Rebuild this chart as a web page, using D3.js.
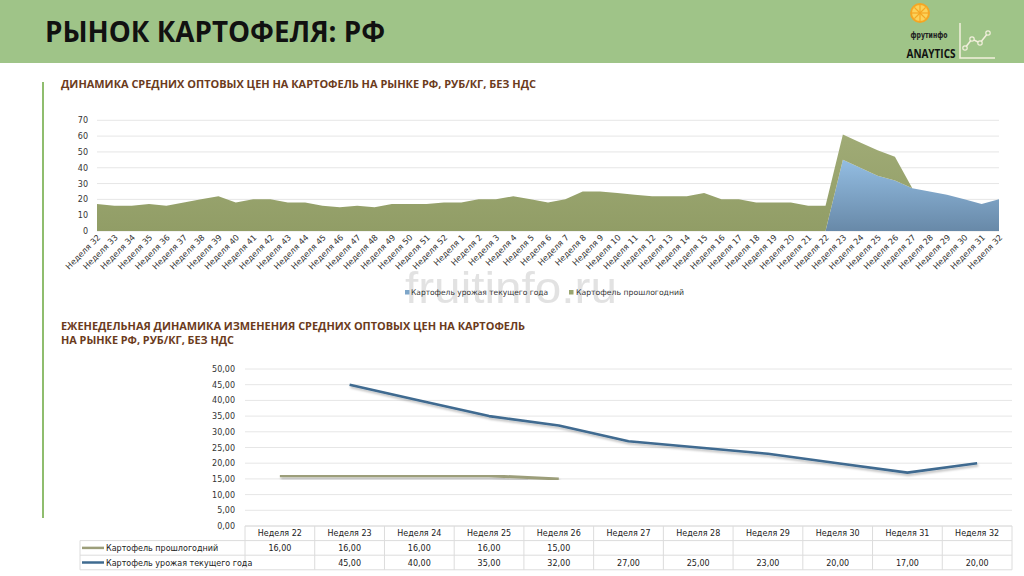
<!DOCTYPE html>
<html>
<head>
<meta charset="utf-8">
<script src="https://cdn.jsdelivr.net/npm/d3@7"></script>
<style>
  body { margin: 0; background: #fff; }
  svg { display: block; font-family: "DejaVu Sans", sans-serif; }
</style>
</head>
<body>
<svg width="1024" height="576"></svg>
<script>
// top chart: weeks from last year's 32 to this year's 32
const topWeeks = [32, 33, 34, 35, 36, 37, 38, 39, 40, 41, 42, 43, 44, 45, 46, 47, 48, 49, 50, 51, 52,
  1, 2, 3, 4, 5, 6, 7, 8, 9, 10, 11, 12, 13, 14, 15, 16, 17, 18, 19, 20, 21, 22, 23, 24, 25, 26, 27, 28, 29, 30, 31, 32];
const topOld = [17, 16, 16, 17, 16, 18, 20, 22, 18, 20, 20, 18, 18, 16, 15, 16, 15, 17, 17, 17, 18,
  18, 20, 20, 22, 20, 18, 20, 25, 25, 24, 23, 22, 22, 22, 24, 20, 20, 18, 18, 18, 16, 16, 16, 16, 16, 15, 0, 0, 0, 0, 0, 0];
const topNew = [0, 0, 0, 0, 0, 0, 0, 0, 0, 0, 0, 0, 0, 0, 0, 0, 0, 0, 0, 0, 0,
  0, 0, 0, 0, 0, 0, 0, 0, 0, 0, 0, 0, 0, 0, 0, 0, 0, 0, 0, 0, 0, 0, 45, 40, 35, 32, 27, 25, 23, 20, 17, 20];
const topTicks = [0, 10, 20, 30, 40, 50, 60, 70];

// bottom chart: weekly prices
const weeks = ["Неделя 22", "Неделя 23", "Неделя 24", "Неделя 25", "Неделя 26", "Неделя 27",
  "Неделя 28", "Неделя 29", "Неделя 30", "Неделя 31", "Неделя 32"];
const oldWeekly = [16, 16, 16, 16, 15, null, null, null, null, null, null];
const newWeekly = [null, 45, 40, 35, 32, 27, 25, 23, 20, 17, 20];
const bottomTicks = [0, 5, 10, 15, 20, 25, 30, 35, 40, 45, 50];

const nameNew = "Картофель урожая текущего года";
const nameOld = "Картофель прошлогодний";

const ru = d3.formatLocale({decimal: ",", thousands: " ", grouping: [3], currency: ["", " ₽"]});
const fmt = ru.format(".2f");

const svg = d3.select("svg");
const defs = svg.append("defs");

const gOld = defs.append("linearGradient").attr("id", "gOld").attr("x1", 0).attr("y1", 0).attr("x2", 0).attr("y2", 1);
gOld.append("stop").attr("offset", "0%").attr("stop-color", "#a0ab76");
gOld.append("stop").attr("offset", "100%").attr("stop-color", "#919d66");
const gNew = defs.append("linearGradient").attr("id", "gNew").attr("x1", 0).attr("y1", 0).attr("x2", 0).attr("y2", 1);
gNew.append("stop").attr("offset", "0%").attr("stop-color", "#93bde2");
gNew.append("stop").attr("offset", "100%").attr("stop-color", "#6889a8");

const shadow = defs.append("filter").attr("id", "shadow").attr("x", "-5%").attr("y", "-20%").attr("width", "110%").attr("height", "150%");
shadow.append("feDropShadow").attr("dx", 1).attr("dy", 2).attr("stdDeviation", 1.2)
  .attr("flood-color", "#000").attr("flood-opacity", 0.25);

// header
svg.append("rect").attr("x", 0).attr("y", 0).attr("width", 1024).attr("height", 63).attr("fill", "#9fc488");
svg.append("text").attr("x", 45).attr("y", 42)
  .style("font-family", "Open Sans").style("font-weight", 700).style("font-size", "29px")
  .attr("fill", "#111").attr("textLength", 340).attr("lengthAdjust", "spacingAndGlyphs")
  .text("РЫНОК КАРТОФЕЛЯ: РФ");

// logo
const logo = svg.append("g");
logo.append("circle").attr("cx", 920).attr("cy", 13).attr("r", 10).attr("fill", "#f5a623");
logo.append("circle").attr("cx", 920).attr("cy", 13).attr("r", 8).attr("fill", "#fcd25a");
d3.range(8).forEach(i => {
  const a = i * Math.PI / 4;
  logo.append("line").attr("x1", 920).attr("y1", 13)
    .attr("x2", 920 + 8 * Math.cos(a)).attr("y2", 13 + 8 * Math.sin(a))
    .attr("stroke", "#f5a623").attr("stroke-width", 1.2);
});
logo.append("text").attr("x", 929).attr("y", 38).attr("text-anchor", "middle")
  .style("font-size", "8.5px").style("font-weight", 700).attr("fill", "#222")
  .attr("textLength", 37).attr("lengthAdjust", "spacingAndGlyphs").text("фрутинфо");
logo.append("text").attr("x", 931).attr("y", 58).attr("text-anchor", "middle")
  .style("font-family", "Open Sans").style("font-weight", 700).style("font-size", "13px").attr("fill", "#111")
  .attr("textLength", 49).attr("lengthAdjust", "spacingAndGlyphs").text("ANAYTICS");
logo.append("path").attr("d", "M960,23 V58 H995").attr("fill", "none").attr("stroke", "#f2efdc").attr("stroke-width", 1.5);
const iconPts = [[965, 48], [972, 39], [980, 43], [988, 33]];
logo.append("path").attr("d", d3.line()(iconPts)).attr("fill", "none").attr("stroke", "#f2efdc").attr("stroke-width", 1.5);
iconPts.forEach(p => logo.append("circle").attr("cx", p[0]).attr("cy", p[1]).attr("r", 2.2)
  .attr("fill", "#9fc488").attr("stroke", "#f2efdc").attr("stroke-width", 1.2));

// left accent line
svg.append("line").attr("x1", 43).attr("x2", 43).attr("y1", 82).attr("y2", 518)
  .attr("stroke", "#8fbd6e").attr("stroke-width", 2);

// section titles
const titleStyle = sel => sel.style("font-family", "Open Sans").style("font-weight", 700)
  .attr("fill", "#6b3b1c").attr("lengthAdjust", "spacingAndGlyphs");
svg.append("text").attr("x", 61).attr("y", 88).style("font-size", "10.5px").call(titleStyle)
  .attr("textLength", 475).text("ДИНАМИКА СРЕДНИХ ОПТОВЫХ ЦЕН НА КАРТОФЕЛЬ НА РЫНКЕ РФ, РУБ/КГ, БЕЗ НДС");
svg.append("text").attr("x", 61).attr("y", 330).style("font-size", "11px").call(titleStyle)
  .attr("textLength", 464).text("ЕЖЕНЕДЕЛЬНАЯ ДИНАМИКА ИЗМЕНЕНИЯ СРЕДНИХ ОПТОВЫХ ЦЕН НА КАРТОФЕЛЬ");
svg.append("text").attr("x", 61).attr("y", 344).style("font-size", "11px").call(titleStyle)
  .attr("textLength", 173).text("НА РЫНКЕ РФ, РУБ/КГ, БЕЗ НДС");

// ---------- top stacked area chart ----------
const idx = d3.range(topWeeks.length);
const x1 = d3.scalePoint().domain(idx).range([97, 999]);
const y1 = d3.scaleLinear().domain([0, 70]).range([231, 120.3]);

svg.append("g").selectAll("line").data(topTicks).join("line")
  .attr("x1", 97).attr("x2", 999).attr("y1", d => y1(d)).attr("y2", d => y1(d))
  .attr("stroke", "#e6e6e6").attr("stroke-width", 1);

svg.append("g").attr("transform", "translate(97,0)")
  .call(d3.axisLeft(y1).tickValues(topTicks).tickSize(0).tickPadding(9))
  .call(g => g.select(".domain").remove())
  .call(g => g.selectAll("text").style("font-size", "8px").style("font-family", "DejaVu Sans").attr("fill", "#333"));

const rows = idx.map(i => ({i: i, cur: topNew[i], old: topOld[i]}));
const stacked = d3.stack().keys(["cur", "old"])(rows);
const area = d3.area().x(d => x1(d.data.i)).y0(d => y1(d[0])).y1(d => y1(d[1]));
svg.append("g").selectAll("path").data(stacked).join("path")
  .attr("d", area)
  .attr("fill", d => d.key === "cur" ? "url(#gNew)" : "url(#gOld)");

svg.append("g").selectAll("text").data(idx).join("text")
  .attr("transform", i => `translate(${x1(i) + 4},238) rotate(-45)`)
  .attr("text-anchor", "end")
  .style("font-size", "8.2px").attr("fill", "#333")
  .text(i => "Неделя " + topWeeks[i]);

// watermark
svg.append("text").attr("x", 405).attr("y", 303)
  .style("font-family", "Liberation Sans").style("font-size", "44px").attr("fill", "#dcdcdc")
  .attr("opacity", 0.8).attr("textLength", 212).attr("lengthAdjust", "spacingAndGlyphs").text("fruitinfo.ru");

// top legend
const leg = svg.append("g").style("font-size", "7.8px").attr("fill", "#333");
leg.append("rect").attr("x", 405).attr("y", 290).attr("width", 4.5).attr("height", 4.5).attr("fill", "#7ea6c9");
leg.append("text").attr("x", 411).attr("y", 295).attr("textLength", 137).attr("lengthAdjust", "spacingAndGlyphs").text(nameNew);
leg.append("rect").attr("x", 569).attr("y", 290).attr("width", 4.5).attr("height", 4.5).attr("fill", "#9aa56f");
leg.append("text").attr("x", 576).attr("y", 295).attr("textLength", 108).attr("lengthAdjust", "spacingAndGlyphs").text(nameOld);

// ---------- bottom line chart with data table ----------
const x2 = d3.scaleBand().domain(weeks).range([245, 1012]);
const y2 = d3.scaleLinear().domain([0, 50]).range([526, 369]);
const cx = w => x2(w) + x2.bandwidth() / 2;

svg.append("g").selectAll("line").data(bottomTicks).join("line")
  .attr("x1", 245).attr("x2", 1012).attr("y1", d => y2(d)).attr("y2", d => y2(d))
  .attr("stroke", "#e6e6e6").attr("stroke-width", 1);

svg.append("g").attr("transform", "translate(245,0)")
  .call(d3.axisLeft(y2).tickValues(bottomTicks).tickFormat(fmt).tickSize(0).tickPadding(10))
  .call(g => g.select(".domain").remove())
  .call(g => g.selectAll("text").style("font-size", "8px").style("font-family", "DejaVu Sans").attr("fill", "#333"));

const line2 = d3.line().defined(d => d.v != null).x(d => cx(d.w)).y(d => y2(d.v));
svg.append("path").datum(weeks.map((w, i) => ({w: w, v: oldWeekly[i]})))
  .attr("d", line2).attr("fill", "none").attr("stroke", "#9c9e7a").attr("stroke-width", 3)
  .attr("filter", "url(#shadow)");
svg.append("path").datum(weeks.map((w, i) => ({w: w, v: newWeekly[i]})))
  .attr("d", line2).attr("fill", "none").attr("stroke", "#3f6b90").attr("stroke-width", 2.6)
  .attr("stroke-linejoin", "round").attr("filter", "url(#shadow)");

// table
const tTop = 526, rowH = 14.6;
const tb = svg.append("g").style("font-size", "8px").attr("fill", "#222");
const gridColor = "#dcdcdc";
// horizontal borders
[[245, tTop], [80, tTop + rowH], [80, tTop + 2 * rowH], [80, tTop + 3 * rowH]].forEach(r => {
  tb.append("line").attr("x1", r[0]).attr("x2", 1012).attr("y1", r[1]).attr("y2", r[1])
    .attr("stroke", gridColor).attr("stroke-width", 1);
});
// vertical borders
tb.append("line").attr("x1", 80).attr("x2", 80).attr("y1", tTop + rowH).attr("y2", tTop + 3 * rowH)
  .attr("stroke", gridColor);
tb.selectAll(".vb").data(weeks).join("line").attr("class", "vb")
  .attr("x1", d => x2(d)).attr("x2", d => x2(d)).attr("y1", tTop).attr("y2", tTop + 3 * rowH)
  .attr("stroke", gridColor);
tb.append("line").attr("x1", 1012).attr("x2", 1012).attr("y1", tTop).attr("y2", tTop + 3 * rowH)
  .attr("stroke", gridColor);

tb.selectAll(".hd").data(weeks).join("text").attr("class", "hd")
  .attr("x", d => cx(d)).attr("y", tTop + rowH / 2 + 3).attr("text-anchor", "middle").text(d => d);
tb.selectAll(".r1").data(weeks.filter((w, i) => oldWeekly[i] != null)).join("text").attr("class", "r1")
  .attr("x", d => cx(d)).attr("y", tTop + rowH * 1.5 + 3).attr("text-anchor", "middle")
  .text(d => fmt(oldWeekly[weeks.indexOf(d)]));
tb.selectAll(".r2").data(weeks.filter((w, i) => newWeekly[i] != null)).join("text").attr("class", "r2")
  .attr("x", d => cx(d)).attr("y", tTop + rowH * 2.5 + 3).attr("text-anchor", "middle")
  .text(d => fmt(newWeekly[weeks.indexOf(d)]));

// table legend keys
tb.append("line").attr("x1", 82).attr("x2", 104).attr("y1", tTop + rowH * 1.5).attr("y2", tTop + rowH * 1.5)
  .attr("stroke", "#9c9e7a").attr("stroke-width", 2.5);
tb.append("text").attr("x", 106).attr("y", tTop + rowH * 1.5 + 3).text(nameOld);
tb.append("line").attr("x1", 82).attr("x2", 104).attr("y1", tTop + rowH * 2.5).attr("y2", tTop + rowH * 2.5)
  .attr("stroke", "#3f6b90").attr("stroke-width", 2.5);
tb.append("text").attr("x", 106).attr("y", tTop + rowH * 2.5 + 3).text(nameNew);
</script>
</body>
</html>
